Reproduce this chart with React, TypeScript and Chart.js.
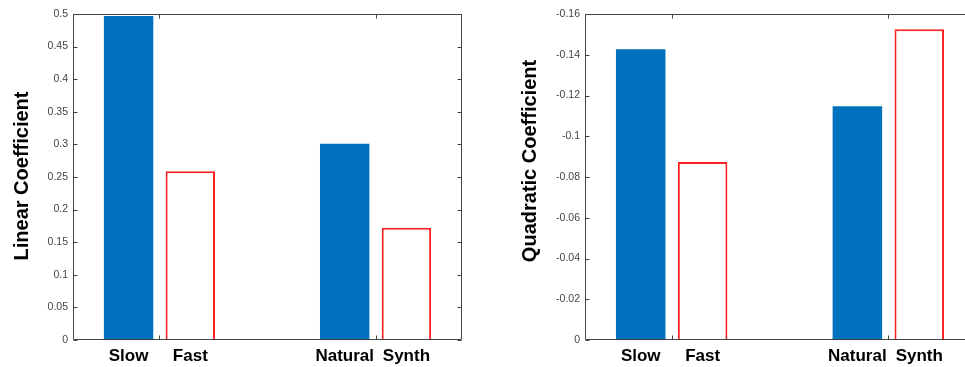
import React, { useEffect, useRef } from "react";
import { Chart, registerables } from "chart.js";
Chart.register(...registerables);

// ---- data ----
const groupPositions = [1, 2];
const filledLabels = ["Slow", "Natural"];
const outlinedLabels = ["Fast", "Synth"];
const linearFilled = [0.497, 0.301];
const linearOutlined = [0.259, 0.172];
const quadraticFilled = [-0.1427, -0.1147];
const quadraticOutlined = [-0.0874, -0.1525];
const linearTicks = [0, 0.05, 0.1, 0.15, 0.2, 0.25, 0.3, 0.35, 0.4, 0.45, 0.5];
const quadraticTicks = [-0.16, -0.14, -0.12, -0.1, -0.08, -0.06, -0.04, -0.02, 0];
const xTicks = [1, 2];
const xMin = 0.6;
const xMax = 2.4;

const FONT = "'Liberation Sans', Arial, Helvetica, sans-serif";
const BLUE = "#0072BD";
const RED = "#FF2020";
const AXIS = "#444444";

const framePlugin = {
  id: "frame",
  afterDatasetsDraw(chart: any) {
    const { ctx, chartArea: a, scales } = chart;
    const L = Math.round(a.left) + 0.5;
    const R = Math.round(a.right) - 0.5;
    const T = Math.round(a.top) + 0.5;
    const B = Math.round(a.bottom) - 0.5;
    ctx.save();
    ctx.strokeStyle = AXIS;
    ctx.lineWidth = 1;
    ctx.beginPath();
    ctx.moveTo(L, T);
    ctx.lineTo(R, T);
    ctx.lineTo(R, B);
    ctx.lineTo(L, B);
    ctx.closePath();
    scales.y.ticks.forEach((t: any) => {
      const y = Math.round(scales.y.getPixelForValue(t.value)) + 0.5;
      ctx.moveTo(L, y);
      ctx.lineTo(L + 4, y);
      ctx.moveTo(R, y);
      ctx.lineTo(R - 4, y);
    });
    scales.x.ticks.forEach((t: any) => {
      const x = Math.round(scales.x.getPixelForValue(t.value)) + 0.5;
      ctx.moveTo(x, B);
      ctx.lineTo(x, B - 4);
      ctx.moveTo(x, T);
      ctx.lineTo(x, T + 4);
    });
    ctx.stroke();
    ctx.restore();
  },
};

const barLabelPlugin = {
  id: "barLabels",
  afterDraw(chart: any) {
    const { ctx, chartArea } = chart;
    ctx.save();
    ctx.font = `bold 17px ${FONT}`;
    ctx.fillStyle = "#000";
    ctx.textAlign = "center";
    ctx.textBaseline = "alphabetic";
    chart.data.datasets.forEach((ds: any, i: number) => {
      const meta = chart.getDatasetMeta(i);
      meta.data.forEach((bar: any, j: number) => {
        ctx.fillText(ds.barLabels[j], bar.x, chartArea.bottom + 21);
      });
    });
    ctx.restore();
  },
};

const yTitlePlugin = {
  id: "yTitle",
  afterDraw(chart: any, _args: any, opts: any) {
    const { ctx } = chart;
    ctx.save();
    ctx.translate(opts.x, opts.y);
    ctx.rotate(-Math.PI / 2);
    ctx.font = `bold 20px ${FONT}`;
    ctx.fillStyle = "#000";
    ctx.textAlign = "center";
    ctx.textBaseline = "middle";
    ctx.fillText(opts.text, 0, 0);
    ctx.restore();
  },
};

function makeConfig(
  filled: number[],
  outlined: number[],
  ticks: number[],
  min: number,
  max: number,
  reverse: boolean,
  axisWidth: number,
  padRight: number,
  title: string,
  titleX: number,
  titleY: number
): any {
  return {
    type: "bar",
    data: {
      datasets: [
        {
          data: groupPositions.map((x, i) => ({ x, y: filled[i] })),
          backgroundColor: BLUE,
          borderWidth: 0,
          barLabels: filledLabels,
          categoryPercentage: 0.5714,
          barPercentage: 0.8,
        },
        {
          data: groupPositions.map((x, i) => ({ x, y: outlined[i] })),
          backgroundColor: "#FFFFFF",
          borderColor: RED,
          borderWidth: 2,
          barLabels: outlinedLabels,
          categoryPercentage: 0.5714,
          barPercentage: 0.8,
        },
      ],
    },
    options: {
      animation: false,
      responsive: false,
      devicePixelRatio: 1,
      layout: { padding: { top: 14, right: padRight, left: 0, bottom: 0 } },
      plugins: {
        legend: { display: false },
        tooltip: { enabled: false },
        yTitle: { text: title, x: titleX, y: titleY },
      },
      scales: {
        x: {
          type: "linear",
          min: xMin,
          max: xMax,
          offset: false,
          afterBuildTicks: (s: any) => {
            s.ticks = xTicks.map((v) => ({ value: v }));
          },
          afterFit: (s: any) => {
            s.height = 27;
          },
          ticks: { display: false },
          grid: { display: false },
          border: { display: false },
        },
        y: {
          type: "linear",
          min,
          max,
          reverse,
          afterBuildTicks: (s: any) => {
            s.ticks = ticks.map((v) => ({ value: v }));
          },
          afterFit: (s: any) => {
            s.width = axisWidth;
          },
          ticks: {
            autoSkip: false,
            padding: 5,
            color: AXIS,
            font: { family: FONT, size: 10.5 },
            callback: (v: any) => String(Number(Number(v).toFixed(4))),
          },
          grid: { display: false, drawTicks: false },
          border: { display: false },
        },
      },
    },
    plugins: [framePlugin, barLabelPlugin, yTitlePlugin],
  };
}

function ChartCanvas({ config, width, height, left }: any) {
  const ref = useRef<HTMLCanvasElement | null>(null);
  useEffect(() => {
    if (!ref.current) return;
    const chart = new Chart(ref.current, config);
    return () => chart.destroy();
  }, [config]);
  return (
    <canvas
      ref={ref}
      width={width}
      height={height}
      style={{ position: "absolute", left, top: 0, width, height }}
    />
  );
}

const leftConfig = makeConfig(
  linearFilled,
  linearOutlined,
  linearTicks,
  0,
  0.5,
  false,
  73,
  18,
  "Linear Coefficient",
  22,
  176
);
const rightConfig = makeConfig(
  quadraticFilled,
  quadraticOutlined,
  quadraticTicks,
  -0.16,
  0,
  true,
  100,
  15,
  "Quadratic Coefficient",
  45,
  161
);

export default function App() {
  return (
    <div
      style={{
        position: "fixed",
        left: 0,
        top: 0,
        width: 965,
        height: 367,
        overflow: "hidden",
        background: "#fff",
      }}
    >
      <ChartCanvas config={leftConfig} width={480} height={367} left={0} />
      <ChartCanvas config={rightConfig} width={505} height={367} left={485} />
    </div>
  );
}
